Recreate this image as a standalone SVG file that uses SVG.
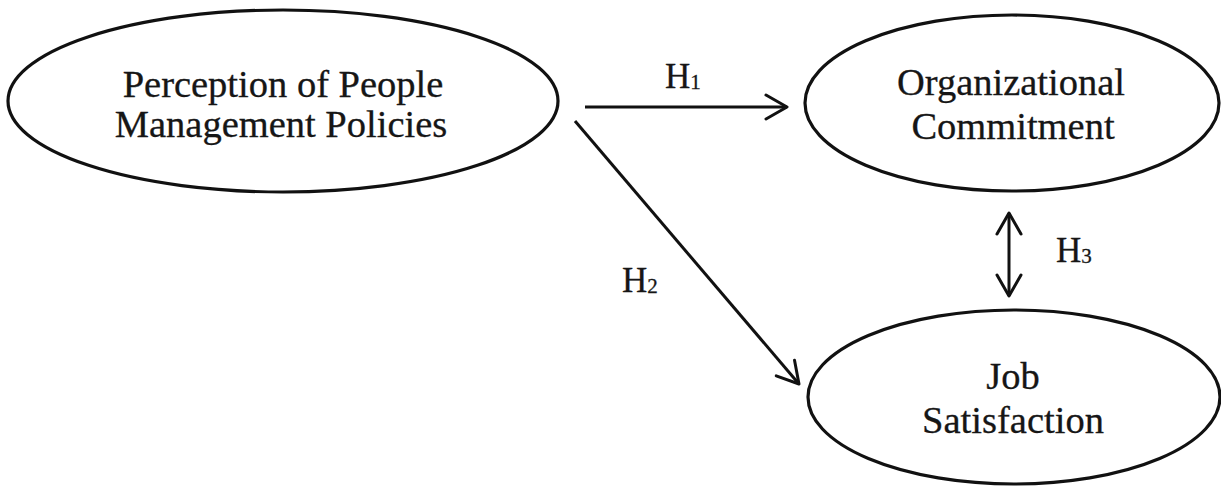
<svg xmlns="http://www.w3.org/2000/svg" width="1221" height="489" viewBox="0 0 1221 489">
  <style>
    .node ellipse { fill: #ffffff; stroke: #111111; stroke-width: 3.2; }
    .label { font-family: "Liberation Serif", "Times New Roman", serif; font-size: 38.5px; fill: #161616; text-anchor: middle; stroke: #161616; stroke-width: 0.3; }
    .hyp { font-family: "Liberation Serif", "Times New Roman", serif; font-size: 35px; fill: #161616; stroke: #161616; stroke-width: 0.3; }
    .hyp tspan.sub { font-size: 21px; }
    .edge { stroke: #111111; stroke-width: 3; fill: none; }
  </style>
  <defs>
    <marker id="open-arrow" viewBox="-24 -14 27 28" refX="0" refY="0" markerWidth="27" markerHeight="28" markerUnits="userSpaceOnUse" orient="auto-start-reverse">
      <path d="M -21 -12 L 0 0 L -21 12" fill="none" stroke="#111111" stroke-width="3" stroke-linecap="round" stroke-linejoin="round"/>
    </marker>
  </defs>

  <rect width="1221" height="489" fill="#ffffff"/>

  <g id="node-perception" class="node">
    <ellipse cx="283" cy="101" rx="275" ry="91"/>
    <text class="label" x="283" y="97">Perception of People</text>
    <text class="label" x="281" y="137">Management Policies</text>
  </g>

  <g id="node-commitment" class="node">
    <ellipse cx="1012" cy="103" rx="207" ry="88"/>
    <text class="label" x="1011" y="95">Organizational</text>
    <text class="label" x="1013" y="139">Commitment</text>
  </g>

  <g id="node-satisfaction" class="node">
    <ellipse cx="1014" cy="397" rx="206" ry="87"/>
    <text class="label" x="1013" y="389">Job</text>
    <text class="label" x="1013" y="433">Satisfaction</text>
  </g>

  <g id="connectors">
    <line class="edge" x1="585" y1="107" x2="787" y2="107" marker-end="url(#open-arrow)"/>
    <line class="edge" x1="575" y1="121" x2="799" y2="384" marker-end="url(#open-arrow)"/>
    <line class="edge" x1="1009" y1="213" x2="1009" y2="296" marker-start="url(#open-arrow)" marker-end="url(#open-arrow)"/>
    <text class="hyp" x="665" y="88">H<tspan class="sub" dy="1">1</tspan></text>
    <text class="hyp" x="622" y="292">H<tspan class="sub" dy="1">2</tspan></text>
    <text class="hyp" x="1056" y="262">H<tspan class="sub" dy="1">3</tspan></text>
  </g>
</svg>
